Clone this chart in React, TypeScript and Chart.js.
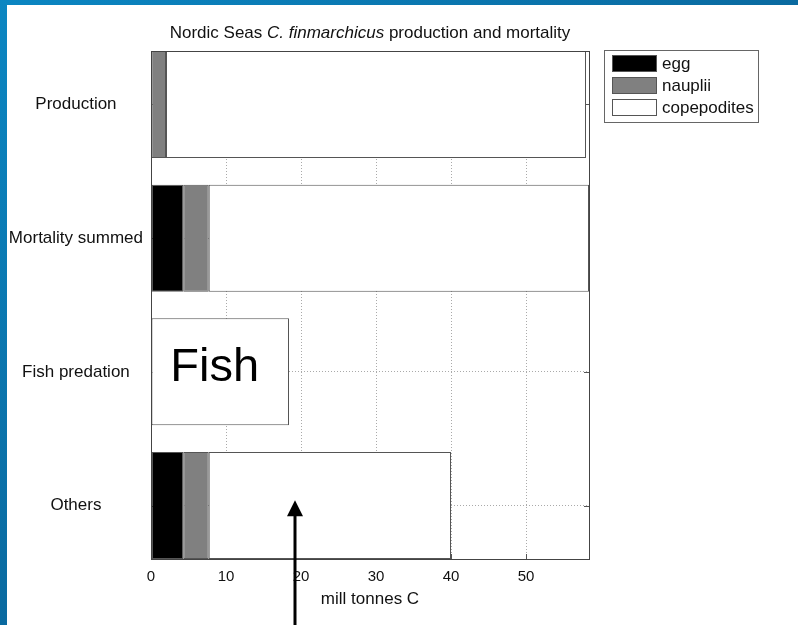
import { useEffect, useRef } from "react";
import { Chart, registerables } from "chart.js";

Chart.register(...registerables);

// ---- data ----
const categories = ["Production", "Mortality summed", "Fish predation", "Others"];
const seriesLabels = ["egg", "nauplii", "copepodites"];
const eggValues = [0, 4.3, 0, 4.3];
const naupliiValues = [2.0, 3.4, 0, 3.4];
const copepoditeValues = [56.0, 50.7, 18.4, 32.3];
const xTickValues = [0, 10, 20, 30, 40, 50];
const xMax = 58.4;
const titleParts: [string, boolean][] = [
  ["Nordic Seas ", false],
  ["C. finmarchicus", true],
  [" production and mortality", false],
];
const xAxisTitle = "mill tonnes C";
const fishLabel = "Fish";
const fishLabelX = 8.5;
const fishLabelCategory = 3;
const arrowX = 19.2;
const arrowTipY = 3.96;

const FONT = '"Liberation Sans", Arial, Helvetica, sans-serif';

const toPoints = (vals: number[]) => vals.map((v, i) => ({ x: v, y: i + 1 }));

const innerTicksPlugin = {
  id: "innerTicks",
  beforeDatasetsDraw(chart: any) {
    const { ctx, chartArea: a, scales } = chart;
    const xs = scales.x, ys = scales.y;
    ctx.save();
    ctx.strokeStyle = "#555";
    ctx.lineWidth = 1;
    ctx.beginPath();
    xTickValues.forEach((v) => {
      const px = Math.round(xs.getPixelForValue(v)) + 0.5;
      ctx.moveTo(px, a.top);
      ctx.lineTo(px, a.top + 5);
      ctx.moveTo(px, a.bottom);
      ctx.lineTo(px, a.bottom - 5);
    });
    categories.forEach((_, i) => {
      const py = Math.round(ys.getPixelForValue(i + 1)) + 0.5;
      ctx.moveTo(a.left, py);
      ctx.lineTo(a.left + 5, py);
      ctx.moveTo(a.right, py);
      ctx.lineTo(a.right - 5, py);
    });
    ctx.stroke();
    ctx.restore();
  },
};

const framePlugin = {
  id: "frame",
  afterDatasetsDraw(chart: any) {
    const { ctx, chartArea: a } = chart;
    ctx.save();
    ctx.strokeStyle = "#444";
    ctx.lineWidth = 1;
    ctx.strokeRect(Math.round(a.left) + 0.5, Math.round(a.top) + 0.5, Math.round(a.right - a.left), Math.round(a.bottom - a.top));
    ctx.restore();
  },
};

const decorPlugin = {
  id: "decor",
  afterDraw(chart: any) {
    const { ctx, chartArea: a, scales } = chart;
    const xs = scales.x, ys = scales.y;
    ctx.save();

    // title with italic part
    ctx.fillStyle = "#111";
    ctx.textBaseline = "middle";
    const fonts = titleParts.map(([, it]) => (it ? `italic 17px ${FONT}` : `17px ${FONT}`));
    let total = 0;
    const widths = titleParts.map(([t], i) => {
      ctx.font = fonts[i];
      const w = ctx.measureText(t).width;
      total += w;
      return w;
    });
    let tx = (a.left + a.right) / 2 - total / 2;
    titleParts.forEach(([t], i) => {
      ctx.font = fonts[i];
      ctx.textAlign = "left";
      ctx.fillText(t, tx, 28);
      tx += widths[i];
    });

    // legend box
    const left = Math.round(a.right) + 15;
    const top = Math.round(a.top) - 1;
    ctx.fillStyle = "#fff";
    ctx.fillRect(left, top, 154, 72);
    ctx.strokeStyle = "#666";
    ctx.lineWidth = 1;
    ctx.strokeRect(left + 0.5, top + 0.5, 154, 72);
    chart.data.datasets.forEach((ds: any, i: number) => {
      const sy = top + 5 + i * 22;
      ctx.fillStyle = ds.backgroundColor;
      ctx.fillRect(left + 8, sy, 45, 17);
      ctx.strokeStyle = "#555";
      ctx.strokeRect(left + 8.5, sy + 0.5, 44, 16);
      ctx.fillStyle = "#111";
      ctx.font = `17px ${FONT}`;
      ctx.textAlign = "left";
      ctx.textBaseline = "middle";
      ctx.fillText(ds.label, left + 58, sy + 9);
    });

    // Fish label
    ctx.fillStyle = "#000";
    ctx.font = `47px ${FONT}`;
    ctx.textAlign = "center";
    ctx.textBaseline = "alphabetic";
    ctx.fillText(fishLabel, xs.getPixelForValue(fishLabelX), ys.getPixelForValue(fishLabelCategory) + 9);

    // arrow
    const ax = Math.round(xs.getPixelForValue(arrowX));
    const tipY = ys.getPixelForValue(arrowTipY);
    ctx.strokeStyle = "#000";
    ctx.lineWidth = 3;
    ctx.beginPath();
    ctx.moveTo(ax, chart.height);
    ctx.lineTo(ax, tipY + 14);
    ctx.stroke();
    ctx.fillStyle = "#000";
    ctx.beginPath();
    ctx.moveTo(ax, tipY);
    ctx.lineTo(ax - 8, tipY + 16);
    ctx.lineTo(ax + 8, tipY + 16);
    ctx.closePath();
    ctx.fill();

    ctx.restore();
  },
};

export default function App() {
  const ref = useRef<HTMLCanvasElement>(null);

  useEffect(() => {
    if (!ref.current) return;
    const colors = ["#000000", "#808080", "#ffffff"];
    const series = [eggValues, naupliiValues, copepoditeValues];
    const chart = new Chart(ref.current, {
      type: "bar",
      data: {
        datasets: series.map((vals, i) => ({
          label: seriesLabels[i],
          data: toPoints(vals),
          backgroundColor: colors[i],
          borderColor: "#555",
          borderWidth: 1,
          borderSkipped: false,
          categoryPercentage: 1,
          barPercentage: 0.8,
        })),
      } as any,
      options: {
        indexAxis: "y",
        animation: false,
        responsive: false,
        devicePixelRatio: 1,
        layout: { padding: { top: 46, right: 209, bottom: 0, left: 0 } },
        plugins: {
          legend: { display: false },
          title: { display: false },
          tooltip: { enabled: false },
        },
        scales: {
          x: {
            type: "linear",
            stacked: true,
            min: 0,
            max: xMax,
            offset: false,
            afterBuildTicks: (scale: any) => {
              scale.ticks = xTickValues.map((v) => ({ value: v }));
            },
            afterFit: (scale: any) => {
              scale.height = 66;
            },
            grid: { color: "#aaaaaa", lineWidth: 1, drawTicks: false, offset: false },
            border: { display: false, dash: [1, 2] },
            ticks: {
              padding: 9,
              color: "#111",
              font: { family: FONT, size: 15 },
              maxRotation: 0,
            },
            title: {
              display: true,
              text: xAxisTitle,
              color: "#111",
              font: { family: FONT, size: 17 },
              padding: { top: 0, bottom: 15 },
            },
          },
          y: {
            type: "linear",
            stacked: true,
            reverse: true,
            min: 0.6,
            max: 4.4,
            offset: false,
            afterBuildTicks: (scale: any) => {
              scale.ticks = categories.map((_, i) => ({ value: i + 1 }));
            },
            afterFit: (scale: any) => {
              scale.width = 144;
            },
            grid: { color: "#aaaaaa", lineWidth: 1, drawTicks: false, offset: false },
            border: { display: false, dash: [1, 2] },
            ticks: {
              padding: 8,
              crossAlign: "center",
              color: "#111",
              font: { family: FONT, size: 17 },
              callback: (v: any) => categories[Math.round(Number(v)) - 1] ?? "",
            },
          },
        },
      } as any,
      plugins: [innerTicksPlugin, framePlugin, decorPlugin],
    });
    return () => chart.destroy();
  }, []);

  return (
    <div
      style={{
        position: "fixed",
        left: 0,
        top: 0,
        width: 798,
        height: 625,
        background: "linear-gradient(to bottom right, #0b86c2, #0a6aa0 50%, #064a7a)",
        overflow: "hidden",
      }}
    >
      <canvas
        ref={ref}
        width={791}
        height={620}
        style={{ position: "absolute", left: 7, top: 5, width: 791, height: 620, background: "#fff" }}
      />
    </div>
  );
}
